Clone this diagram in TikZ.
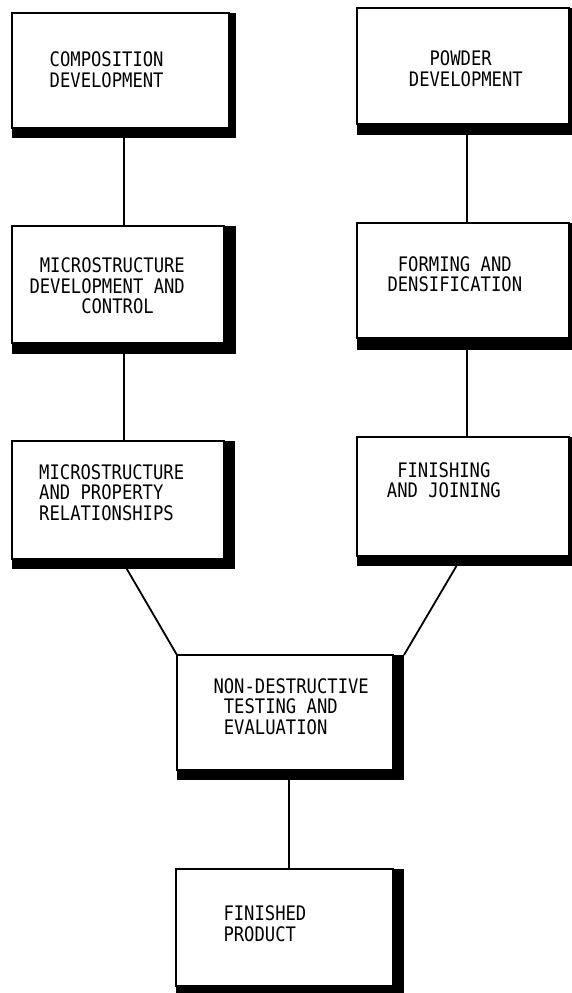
\documentclass[tikz,border=0pt]{standalone}
\usepackage{fontspec}
\newfontfamily\lblfont[FakeStretch=0.86]{DejaVu Sans Mono}
\usetikzlibrary{calc}

% A box with a heavy black drop edge on its right and bottom sides.
% #1 name, #2 #3 top-left corner, #4 width, #5 height, #6 #7 shadow offsets
\newcommand\shbox[7]{%
  \node[shadowbox, anchor=north west,
        minimum width={#4+#6}, minimum height={#5+#7}] (#1s) at (#2,#3) {};
  \node[plainbox, anchor=north west,
        minimum width=#4, minimum height=#5] (#1) at (#2,#3) {};
}

\begin{document}
\begin{tikzpicture}[x=1pt, y=-1pt,
  shadowbox/.style={rectangle, fill=black, draw=none, inner sep=0pt, outer sep=0pt},
  plainbox/.style={rectangle, fill=white, draw=black, line width=1.2pt, inner sep=0pt, outer sep=0pt},
  % labels are placed by the baseline of their last line
  lbl/.style={font=\lblfont\fontsize{20}{20.6}\selectfont, align=left, inner sep=0pt, anchor=base west},
  conn/.style={draw=black, line width=1.8pt}]
\useasboundingbox[fill=white] (0,0) rectangle (572,993);

% boxes
\shbox{comp}{12}{13}{217}{115}{7}{10}
\shbox{powd}{357}{8}{212}{116}{11}{11}
\shbox{mdev}{12}{226}{212}{117}{12}{11}
\shbox{form}{357}{223}{212}{115}{11}{12}
\shbox{mprop}{12}{441}{212}{118}{11}{10}
\shbox{fin}{357}{437}{212}{119}{11}{10}
\shbox{ndt}{177}{655}{216}{115}{11}{10}
\shbox{prod}{176}{869}{217}{117}{11}{10}

% labels
\node[lbl] (tcomp) at (49.5,87.3) {COMPOSITION\\DEVELOPMENT};
\node[lbl] (tpowd) at (408.7,86.3) {\hphantom{XX}POWDER\\DEVELOPMENT};
\node[lbl] (tmdev) at (29.3,313.9) {\hphantom{X}MICROSTRUCTURE\\DEVELOPMENT AND\\\hphantom{XXXXX}CONTROL};
\node[lbl] (tform) at (387.3,291.6) {\hphantom{X}FORMING AND\\DENSIFICATION};
\node[lbl] (tmprop) at (39,520.5) {MICROSTRUCTURE\\AND PROPERTY\\RELATIONSHIPS};
\node[lbl] (tfin) at (386.7,497.9) {\hphantom{X}FINISHING\\AND JOINING};
\node[lbl] (tndt) at (213.3,734.5) {NON-DESTRUCTIVE\\\hphantom{X}TESTING AND\\\hphantom{X}EVALUATION};
\node[lbl] (tprod) at (223.3,941.3) {FINISHED\\PRODUCT};

% connection points along the lower edges
\coordinate (powdout) at ($(powds.south west)!0.4933!(powds.south east)$);
\coordinate (formout) at ($(forms.south west)!0.4933!(forms.south east)$);
\coordinate (finout)  at ($(fins.south west)!0.446!(fins.south east)$);
\coordinate (mpropout) at ($(mprops.south west)!0.515!(mprops.south east)$);
\coordinate (ndtout)  at ($(ndts.south west)!0.4934!(ndts.south east)$);

% connectors
\draw[conn] (comps.south) -- (comps.south |- mdev.north);
\draw[conn] (powdout) -- (powdout |- form.north);
\draw[conn] (mdevs.south) -- (mdevs.south |- mprop.north);
\draw[conn] (formout) -- (formout |- fin.north);
\draw[conn] (mpropout) -- (ndt.north west);
\draw[conn] (finout) -- (ndts.north east);
\draw[conn] (ndtout) -- (ndtout |- prod.north);
\end{tikzpicture}
\end{document}
